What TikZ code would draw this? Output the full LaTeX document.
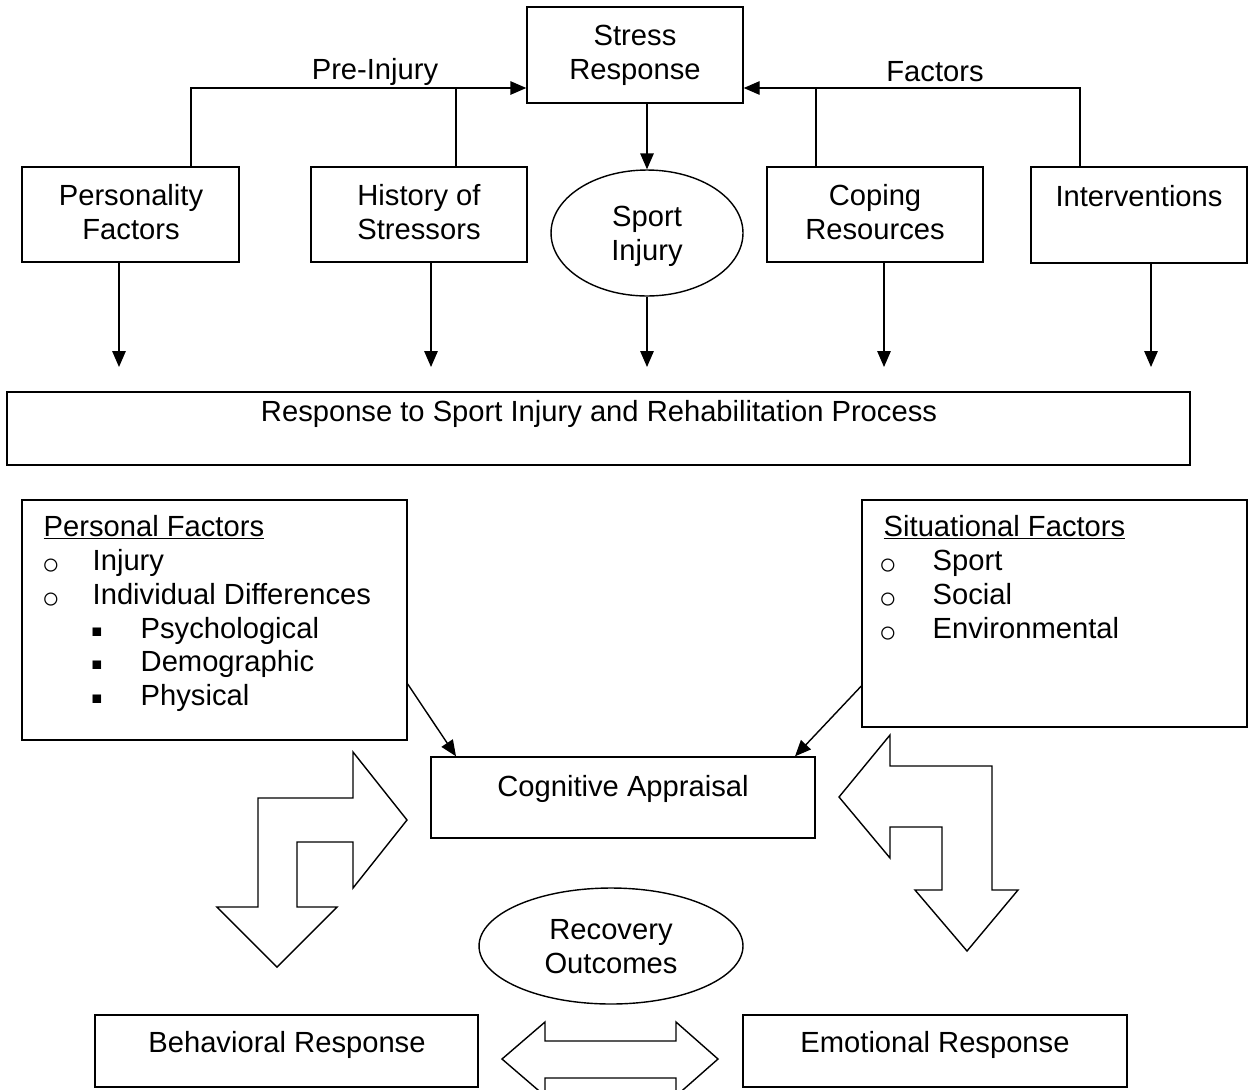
\documentclass[tikz,border=0pt]{standalone}
\usepackage{fontspec}
\setmainfont{Liberation Sans}
\usetikzlibrary{arrows.meta,shapes.geometric,fit}

\begin{document}
\begin{tikzpicture}[x=0.02cm,y=-0.02cm,line width=0.8pt,
  every node/.style={font=\fontsize{16.6}{19.3}\selectfont},
  box/.style={draw,rectangle,inner sep=0pt},
  oval/.style={draw,ellipse,inner sep=0pt},
  txt/.style={align=center,inner sep=0pt},
  item/.style={anchor=base west,inner sep=0pt},
  ring/.style={inner sep=0pt,font=\fontsize{17}{17}\selectfont},
  sq/.style={inner sep=0pt,font=\fontsize{10}{10}\selectfont},
  arr/.style={-{Triangle[length=0.32cm,width=0.27cm]}},
  block/.style={draw,fill=white,line join=miter}]
\useasboundingbox (0,0) rectangle (1253,1089);
\clip (0,0) rectangle (1253,1089);

% top row of boxes
\node[box,fit={(527,7)(743,103)}] (stress) {};
\node[txt] at (635,55) {Stress\\Response};
\node[box,fit={(22,167)(239,262)}] (pers) {};
\node[txt] at (131,212) {Personality\\Factors};
\node[box,fit={(311,167)(527,262)}] (hist) {};
\node[txt] at (419,212) {History of\\Stressors};
\node[box,fit={(767,167)(983,262)}] (coping) {};
\node[txt] at (875,212) {Coping\\Resources};
\node[box,fit={(1031,167)(1247,263)}] (interv) {};
\node[txt] at (1139,196) {Interventions};
\node[oval,minimum width=3.84cm,minimum height=2.52cm] (sport) at (647,233) {};
\node[txt] at (647,236) {Sport\\Injury};

% labels on the two feeding lines
\node[txt] at (375,72) {Pre-Injury};
\node[txt] at (935,72) {Factors};

% pre-injury factors into the stress response
\coordinate (pj) at (191,88);
\coordinate (hj) at (456,88);
\draw[arr] (pj |- pers.north) -- (pj) -- (stress.west |- pj);
\draw (hj |- hist.north) -- (hj);
% coping and intervention factors into the stress response
\coordinate (cj) at (816,88);
\coordinate (ij) at (1080,88);
\draw[arr] (ij |- interv.north) -- (ij) -- (stress.east |- ij);
\draw (cj |- coping.north) -- (cj);
% stress response to sport injury
\draw[arr] (sport.north |- stress.south) -- (sport.north);

% response box
\node[box,fit={(7,392)(1190,465)}] (resp) {};
\node[txt] at (599,414) {Response to Sport Injury and Rehabilitation Process};

% arrows down towards the response box
\coordinate (d1) at (119,367);
\coordinate (d2) at (431,367);
\coordinate (d3) at (647,367);
\coordinate (d4) at (884,367);
\coordinate (d5) at (1151,367);
\draw[arr] (d1 |- pers.south) -- (d1);
\draw[arr] (d2 |- hist.south) -- (d2);
\draw[arr] (sport.south) -- (d3);
\draw[arr] (d4 |- coping.south) -- (d4);
\draw[arr] (d5 |- interv.south) -- (d5);

% personal factors
\node[box,fit={(22,500)(407,740)}] (personal) {};
\node[item] at (43,536) {\underline{Personal Factors}};
\node[ring] at (51,567) {○};
\node[item] at (92,570) {Injury};
\node[ring] at (51,601) {○};
\node[item] at (92,604) {Individual Differences};
\node[sq] at (97,633) {■};
\node[item] at (140,638) {Psychological};
\node[sq] at (97,666) {■};
\node[item] at (140,671) {Demographic};
\node[sq] at (97,700) {■};
\node[item] at (140,705) {Physical};

% situational factors
\node[box,fit={(862,500)(1247,727)}] (situ) {};
\node[item] at (883,536) {\underline{Situational Factors}};
\node[ring] at (888,567) {○};
\node[item] at (932,570) {Sport};
\node[ring] at (888,601) {○};
\node[item] at (932,604) {Social};
\node[ring] at (888,635) {○};
\node[item] at (932,638) {Environmental};

% cognitive appraisal
\node[box,fit={(431,757)(815,838)}] (cog) {};
\node[txt] at (623,789) {Cognitive Appraisal};
\draw[arr] (personal.east |- 0,684) -- (cog.north west -| 456,0);
\draw[arr] (situ.west |- 0,686) -- (cog.north east -| 795,0);

% bent block arrows
\draw[block] (258,907) -- (258,798) -- (353,798) -- (353,752) -- (407,820)
  -- (353,888) -- (353,842) -- (297,842) -- (297,907) -- (337,907)
  -- (277,967) -- (217,907) -- cycle;
\draw[block] (839,797) -- (890,735) -- (890,766) -- (992,766) -- (992,890)
  -- (1018,890) -- (967,951) -- (915,890) -- (942,890) -- (942,827)
  -- (890,827) -- (890,858) -- cycle;

% recovery outcomes
\node[oval,minimum width=5.28cm,minimum height=2.32cm] (recov) at (611,946) {};
\node[txt] at (611,947) {Recovery\\Outcomes};

% behavioural and emotional responses
\node[box,fit={(95,1015)(478,1087)}] (behav) {};
\node[txt] at (287,1045) {Behavioral Response};
\node[box,fit={(743,1015)(1127,1087)}] (emot) {};
\node[txt] at (935,1045) {Emotional Response};

% two-headed block arrow
\draw[block] (502,1059) -- (545,1022) -- (545,1041) -- (676,1041) -- (676,1022)
  -- (718,1059) -- (676,1096) -- (676,1078) -- (545,1078) -- (545,1096) -- cycle;
\end{tikzpicture}
\end{document}
